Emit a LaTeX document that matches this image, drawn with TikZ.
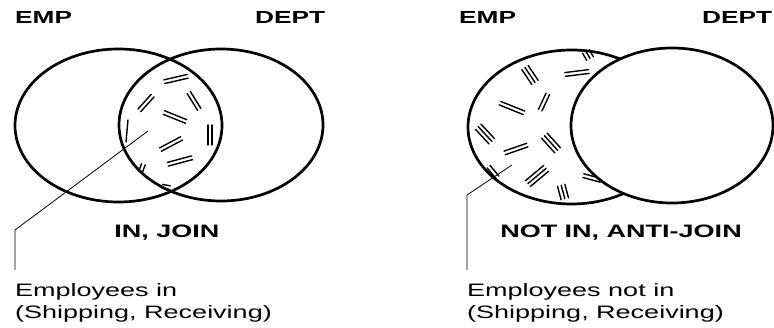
\documentclass[tikz,border=0pt]{standalone}
\usepackage{fontspec}
\setmainfont{Liberation Sans}[FakeStretch=1.5]
\usetikzlibrary{shapes.geometric}
\newcommand\hmark[5]{% cx cy angle len n
  \begin{scope}[shift={(#1,#2)},rotate=#3]
    \foreach \k in {1,...,#5}{\draw[hl] ({-#4/2},{(\k-(#5+1)/2)*3.8}) -- ({#4/2},{(\k-(#5+1)/2)*3.8});}
  \end{scope}}
\begin{document}
\begin{tikzpicture}[x=1pt,y=-1pt,
  setshape/.style={ellipse, draw, line width=2.7pt, inner sep=0pt},
  hl/.style={line width=1.4pt, line cap=round},
  lead/.style={line width=0.8pt},
  setlbl/.style={font=\bfseries\fontsize{17.5}{20}\selectfont, inner sep=0pt, anchor=base west},
  caplbl/.style={font=\bfseries\fontsize{18}{21}\selectfont, inner sep=0pt, anchor=base},
  note/.style={font=\fontsize{18}{21}\selectfont, inner sep=0pt, anchor=base west}]
\useasboundingbox (0,0) rectangle (774,328);

% ---------- left diagram: IN, JOIN ----------
\node[setshape, minimum width=207pt, minimum height=153pt] (empA) at (118.5,125.5) {};
\node[setshape, minimum width=204pt, minimum height=152pt] (deptA) at (221,125) {};
\hmark{176}{79}{13}{24}{2}
\hmark{146}{103}{48}{20}{2}
\hmark{194}{101}{-58}{20}{2}
\hmark{175}{117}{-22}{24}{2}
\hmark{210}{135}{90}{20}{2}
\hmark{171}{144}{28}{24}{2}
\hmark{180}{161}{15}{25}{2}
\hmark{127}{131}{85}{22}{1}
\hmark{142}{168}{70}{8}{2}
\hmark{166}{187}{-10}{8}{2}

\node[setlbl] (empAl) at (15,24) {EMP};
\node[setlbl] (deptAl) at (255,24) {DEPT};
\node[caplbl] (capA) at (167,238) {IN, JOIN};
\node[note] (noteA1) at (15,297) {Employees in};
\node[note] (noteA2) at (15,319) {(Shipping, Receiving)};
\coordinate (ptA) at (148,131);
\coordinate (bendA) at (15,230);
\coordinate (endA) at (15,270);
\draw[lead] (ptA) -- (bendA) -- (endA);

% ---------- right diagram: NOT IN, ANTI-JOIN ----------
\node[setshape, minimum width=207pt, minimum height=154pt] (empB) at (571.5,127) {};
\hmark{530}{75}{-56}{18}{3}
\hmark{577}{73}{7}{24}{2}
\hmark{588}{55}{-60}{8}{3}
\hmark{512}{108}{-22}{26}{2}
\hmark{544}{102}{65}{18}{2}
\hmark{485}{134}{-47}{20}{3}
\hmark{551}{143}{-48}{20}{3}
\hmark{516}{149}{19}{24}{2}
\hmark{537}{176}{40}{24}{3}
\hmark{563}{192}{-75}{14}{3}
\hmark{592}{178}{-15}{18}{2}
\hmark{493}{172}{-50}{14}{2}
\node[setshape, fill=white, minimum width=202pt, minimum height=155pt] (deptB) at (672,125.5) {};

\node[setlbl] (empBl) at (459,24) {EMP};
\node[setlbl] (deptBl) at (702,24) {DEPT};
\node[caplbl] (capB) at (621,238) {NOT IN, ANTI-JOIN};
\node[note] (noteB1) at (467,297) {Employees not in};
\node[note] (noteB2) at (467,319) {(Shipping, Receiving)};
\coordinate (ptB) at (512,165);
\coordinate (bendB) at (467,195);
\coordinate (endB) at (467,270);
\draw[lead] (ptB) -- (bendB) -- (endB);
\end{tikzpicture}
\end{document}
